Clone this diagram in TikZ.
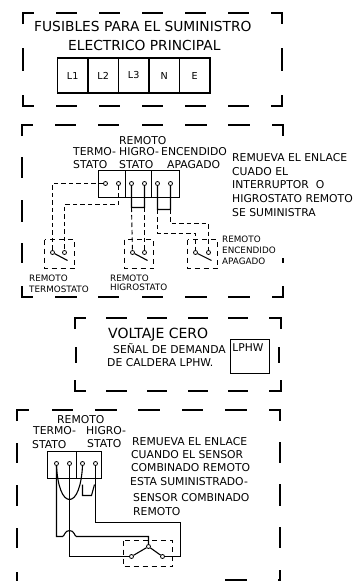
\documentclass[tikz,border=0pt]{standalone}
\usepackage{fontspec}
\setmainfont{DejaVu Sans}
\begin{document}
\begin{tikzpicture}[x=1pt,y=-1pt,
  frm/.style={line width=1.9pt,line cap=butt,shift={(-0.5,-0.5)}},
  wire/.style={line width=1.1pt},
  dwire/.style={line width=0.9pt,dash pattern=on 4.5pt off 3pt},
  dbox/.style={line width=0.9pt,dash pattern=on 5pt off 4pt},
  cell/.style={draw,line width=1.1pt,inner sep=0pt,font=\fontsize{9.6}{11}\selectfont},
  term/.style={circle,draw,line width=0.8pt,fill=white,inner sep=0pt,minimum size=4pt},
  big/.style={inner sep=0pt,anchor=west,font=\fontsize{13.8}{15}\selectfont},
  mid/.style={inner sep=0pt,anchor=west,font=\fontsize{10.8}{12}\selectfont},
  small/.style={inner sep=0pt,anchor=west,font=\fontsize{8.8}{10}\selectfont}]
\useasboundingbox (0,0) rectangle (354,581);
\begin{scope}[shift={(0.5,0.5)}]
% frame 1
\draw[frm] (23,24)--(23,13)--(34,13) (56,13)--(77,13) (99,13)--(120,13) (142,13)--(163,13) (185,13)--(206,13) (228,13)--(249,13) (271,13)--(282,13)--(282,24)
 (23,48)--(23,71) (282,48)--(282,71)
 (23,95)--(23,106)--(34,106) (56,106)--(77,106) (99,106)--(120,106) (142,106)--(163,106) (185,106)--(206,106) (228,106)--(249,106) (271,106)--(282,106)--(282,95);
\node[big] (t1a) at (33.5,26) {FUSIBLES PARA EL SUMINISTRO};
\node[big] (t1b) at (67.5,45) {ELECTRICO PRINCIPAL};
\foreach \n/\x/\t in {f1/72.2/L1,f2/102.7/L2,f3/133.2/L3,f4/163.7/N,f5/194.2/E}
  \node[cell,minimum width=30.5pt,minimum height=35pt] (\n) at (\x,75) {\t};
% frame 2
\draw[frm] (22,136)--(22,125)--(33,125) (55,125)--(76,125) (98,125)--(119,125) (142,125)--(163,125) (185,125)--(207,125) (228,125)--(250,125) (272,125)--(283,125)--(283,136)
 (22,157)--(22,178) (22,200)--(22,222) (22,243)--(22,263)
 (283,258)--(283,263)
 (22,286)--(22,297)--(33,297) (55,297)--(77,297) (98,297)--(119,297) (142,297)--(163,297) (185,297)--(207,297) (228,297)--(250,297) (272,297)--(283,297)--(283,286);
\node[mid] (r0) at (118.5,140) {REMOTO};
\node[mid] (r1) at (72.5,151) {TERMO-};
\node[mid] (r2) at (118.5,151) {HIGRO-};
\node[mid] (r3) at (160.5,151) {ENCENDIDO};
\node[mid] (r4) at (72.5,164) {STATO};
\node[mid] (r5) at (118.5,164) {STATO};
\node[mid] (r6) at (166.5,164) {APAGADO};
\node[mid] (n1) at (231.5,157) {REMUEVA EL ENLACE};
\node[mid] (n2) at (231.5,171) {CUADO EL};
\node[mid] (n3) at (231.5,184) {INTERRUPTOR\ \ O};
\node[mid] (n4) at (231.5,198) {HIGROSTATO REMOTO};
\node[mid] (n5) at (231.5,212) {SE SUMINISTRA};
\node[small] (s1) at (28.5,278) {REMOTO};
\node[small] (s2) at (28.5,289) {TERMOSTATO};
\node[small] (s3) at (109.5,278) {REMOTO};
\node[small] (s4) at (109.5,287) {HIGROSTATO};
\node[small] (s5) at (221.5,239) {REMOTO};
\node[small] (s6) at (221.5,250) {ENCENDIDO};
\node[small] (s7) at (221.5,261) {APAGADO};
\node[cell,minimum width=27pt,minimum height=27pt] (b1) at (111.5,183.5) {};
\node[cell,minimum width=26pt,minimum height=27pt] (b2) at (138,183.5) {};
\node[cell,minimum width=28pt,minimum height=27pt] (b3) at (165,183.5) {};
\foreach \n/\x in {a1/105,a2/118,a3/131,a4/144,a5/157,a6/170}
  \node[term] (\n) at (\x,183) {};
\foreach \n/\x in {c1/52,c2/64,c3/132,c4/144,c5/195,c6/208}
  \node[term] (\n) at (\x,252) {};
\coordinate (l1) at (131,207); \coordinate (l2) at (144,207);
\coordinate (l3) at (157,209); \coordinate (l4) at (170,209);
\coordinate (k1) at (67,260); \coordinate (k2) at (147,260); \coordinate (k3) at (211,260);
\draw[wire] (a3)--(l1)--(l2)--(a4) (a5)--(l3)--(l4)--(a6) (c1)--(k1) (c3)--(k2) (c5)--(k3);
\draw[dwire] (a1)-|(c1);
\draw[dwire] (a2)|-(64,204)--(c2);
\draw[dwire] (l1)--(c3);
\draw[dwire] (l2)--(c4);
\draw[dwire] (l3)|-(195,233)--(c5);
\draw[dwire] (l4)|-(208,223)--(c6);
\draw[dbox] (44,239) rectangle (74,268) (124,239) rectangle (153,268) (187,239) rectangle (217,268);
% frame 3
\draw[frm] (75,329)--(75,318)--(86,318) (106,318)--(127,318) (147,318)--(167,318) (188,318)--(208,318) (228,318)--(248,318) (269,318)--(281,318)--(281,329)
 (76,347)--(76,363) (279,347)--(279,363)
 (75,380)--(75,391)--(86,391) (106,391)--(127,391) (147,391)--(167,391) (188,391)--(208,391) (228,391)--(248,391) (269,391)--(281,391)--(281,380);
\node[inner sep=0pt,anchor=west,font=\fontsize{14}{16}\selectfont] (v1) at (107.5,334) {VOLTAJE CERO};
\node[mid] (v2) at (112.5,348) {SEÑAL DE DEMANDA};
\node[mid] (v3) at (106.5,362) {DE CALDERA LPHW.};
\node[draw,line width=1.1pt,minimum width=39pt,minimum height=34pt,inner sep=0pt] (lp) at (249.5,356) {};
\node[inner sep=0pt,font=\fontsize{10.7}{12}\selectfont] (lpt) at (247.5,347) {LPHW};
% frame 4
\draw[frm] (17,421)--(17,410)--(29,410) (52,410)--(73,410) (95,410)--(117,410) (138,410)--(160,410) (182,410)--(203,410) (225,410)--(247,410) (269,410)--(280,410)--(280,421)
 (17,443)--(17,463) (17,485)--(17,506) (17,528)--(17,548) (17,572)--(17,581)
 (280,442)--(280,463) (280,484)--(280,506) (280,527)--(280,548) (280,570)--(280,580)--(278,580) (225,580)--(247,580);
\node[mid] (q0) at (56.5,419) {REMOTO};
\node[mid] (q1) at (32.5,430) {TERMO-};
\node[mid] (q2) at (85.5,430) {HIGRO-};
\node[mid] (q3) at (31.5,444) {STATO};
\node[mid] (q4) at (86.5,443) {STATO};
\node[mid] (w1) at (131.5,441) {REMUEVA EL ENLACE};
\node[mid] (w2) at (130.5,454) {CUANDO EL SENSOR};
\node[mid] (w3) at (130.5,467) {COMBINADO REMOTO};
\node[mid] (w4) at (129.5,481) {ESTA SUMINISTRADO-};
\node[mid] (w5) at (132.5,497) {SENSOR COMBINADO};
\node[mid] (w6) at (132.5,511) {REMOTO};
\node[cell,minimum width=29pt,minimum height=27pt] (d1) at (61.5,464.5) {};
\node[cell,minimum width=25pt,minimum height=27pt] (d2) at (88.5,464.5) {};
\coordinate (ub) at (69,499);
\coordinate (lk1) at (82,484); \coordinate (lk2) at (82,495); \coordinate (lk3) at (91,495); \coordinate (lk4) at (94,484);
\draw[wire] (lk1)--(lk2)--(lk3)--(lk4);
\node[term] (e1) at (56,463) {};
\node[term] (e2) at (69,463) {};
\node[term] (e3) at (82,463) {};
\node[term] (e4) at (95,463) {};
\node[term] (sw) at (148,546) {};
\node[term] (sl) at (131,556) {};
\node[term] (sr) at (162,556) {};
\draw[wire] (e1.south) .. controls (57,485) and (62,499) .. (ub) .. controls (76,499) and (81,485) .. (e3.south);
\draw[wire] (e2)--(69,556)--(sl);
\draw[wire] (e1)--(56,536)--(62,536) .. controls (64,536) and (64,530) .. (69,530) .. controls (74,530) and (74,536) .. (76,536) -- (148,536) -- (sw);
\draw[wire] (e4)--(95,522)--(180,522)--(180,556)--(sr);
\draw[wire] (sl)--(sw)--(sr);
\draw[dbox] (123,540) rectangle (172,566);
\end{scope}
\end{tikzpicture}
\end{document}
